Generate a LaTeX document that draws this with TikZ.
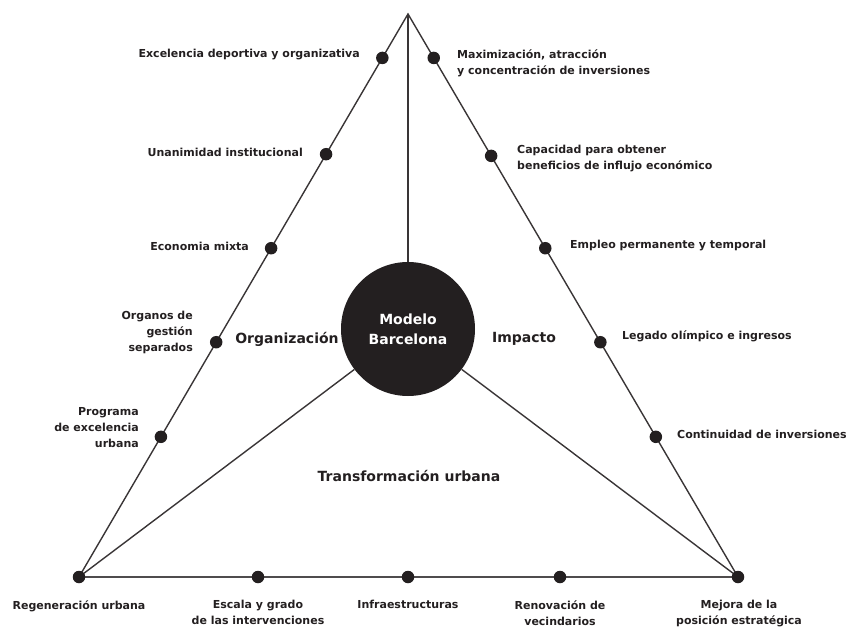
\documentclass[tikz,border=0pt]{standalone}
\usepackage{fontspec}
\setmainfont{DejaVu Sans}
\usetikzlibrary{calc}
\definecolor{ink}{HTML}{231F20}
\begin{document}
\begin{tikzpicture}[x=1pt,y=-1pt,
  edge/.style={draw=ink!90, line width=1.4pt},
  baseedge/.style={draw=ink!80, line width=2pt},
  dot/.style={circle, fill=ink, inner sep=0pt, minimum size=12.5pt},
  lbl/.style={font=\fontsize{11}{16}\selectfont\bfseries, text=ink, inner sep=0pt},
  lblL/.style={lbl, anchor=east, align=right},
  lblR/.style={lbl, anchor=west, align=left},
  lblB/.style={lbl, anchor=north, align=center},
  big/.style={font=\fontsize{14}{19}\selectfont\bfseries, text=ink, inner sep=0pt},
  hub/.style={circle, fill=ink, minimum size=134pt, inner sep=0pt, text=white,
    font=\fontsize{14}{20}\selectfont\bfseries, align=center}]
\useasboundingbox (0,0) rectangle (849,629);

\coordinate (apex) at (408,14);
\coordinate (bl) at (79,577);
\coordinate (br) at (738,577);

\node[hub] (mb) at (408,329) {Modelo\\Barcelona};

% frame
\draw[edge] (bl) -- (apex) -- (br);
\draw[baseedge] (bl) -- (br);
\draw[edge] (apex) -- (mb.north);
\draw[edge] (mb) -- (bl);
\draw[edge] (mb) -- (br);

% dots left edge
\node[dot] (l1) at ($(apex)!0.078!(bl)$) {};
\node[dot] (l2) at ($(apex)!0.249!(bl)$) {};
\node[dot] (l3) at ($(apex)!0.416!(bl)$) {};
\node[dot] (l4) at ($(apex)!0.583!(bl)$) {};
\node[dot] (l5) at ($(apex)!0.751!(bl)$) {};
% dots right edge
\node[dot] (r1) at ($(apex)!0.078!(br)$) {};
\node[dot] (r2) at ($(apex)!0.252!(br)$) {};
\node[dot] (r3) at ($(apex)!0.416!(br)$) {};
\node[dot] (r4) at ($(apex)!0.583!(br)$) {};
\node[dot] (r5) at ($(apex)!0.751!(br)$) {};
% dots bottom
\node[dot] (b1) at (bl) {};
\node[dot] (b2) at (258,577) {};
\node[dot] (b3) at (408,577) {};
\node[dot] (b4) at (560,577) {};
\node[dot] (b5) at (br) {};

% left labels
\node[lblL] (tl1) at (360,55) {Excelencia deportiva y organizativa};
\node[lblL] (tl2) at (303,152) {Unanimidad institucional};
\node[lblL] (tl3) at (249,246) {Economia mixta};
\node[lblL] (tl4) at (193,332) {Organos de\\gestión\\separados};
\node[lblL] (tl5) at (139,428) {Programa\\de excelencia\\urbana};

% right labels
\node[lblR] (tr1) at (457,63) {Maximización, atracción\\y concentración de inversiones};
\node[lblR] (tr2) at (517,159) {Capacidad para obtener\\beneficios de influjo económico};
\node[lblR] (tr3) at (570,246) {Empleo permanente y temporal};
\node[lblR] (tr4) at (622,336) {Legado olímpico e ingresos};
\node[lblR] (tr5) at (677,434) {Continuidad de inversiones};

% bottom labels
\node[lblB] (tb1) at (79,600) {Regeneración urbana};
\node[lblB] (tb2) at (258,600) {Escala y grado\\de las intervenciones};
\node[lblB] (tb3) at (408,600) {Infraestructuras};
\node[lblB] (tb4) at (560,600) {Renovación de\\vecindarios};
\node[lblB] (tb5) at (739,600) {Mejora de la\\posición estratégica};

% section labels
\node[big] (org) at (287,339) {Organización};
\node[big] (imp) at (524,339) {Impacto};
\node[big] (tra) at (409,476) {Transformación urbana};
\end{tikzpicture}
\end{document}
